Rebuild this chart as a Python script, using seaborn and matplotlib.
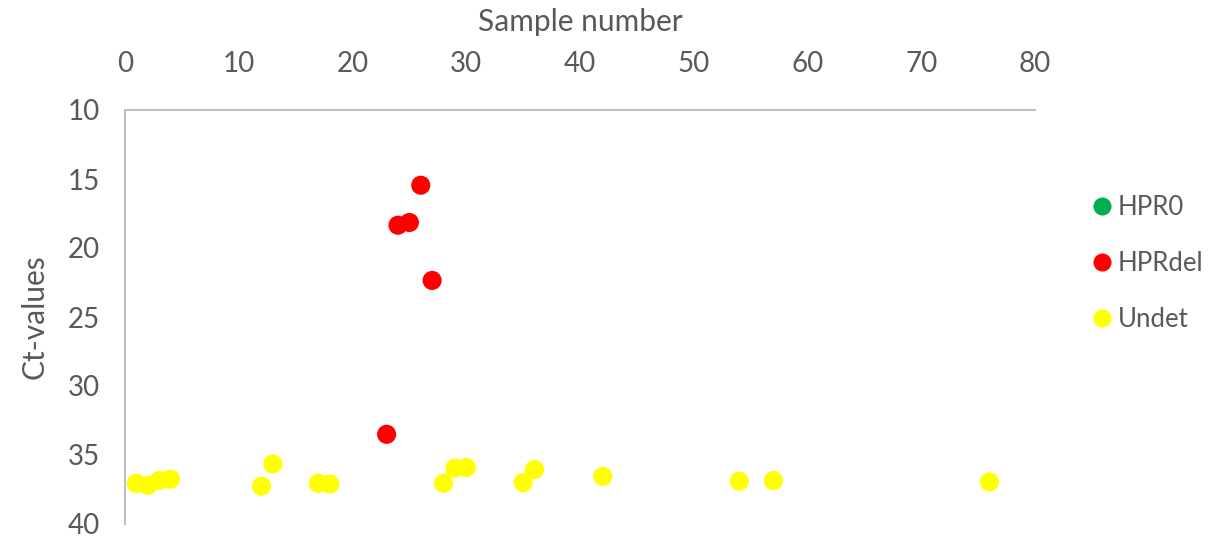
import matplotlib
matplotlib.use("Agg")
import matplotlib.pyplot as plt
from matplotlib.lines import Line2D
import pandas as pd
import seaborn as sns

# values
hprdel_x = [23, 24, 25, 26, 27]
hprdel_y = [33.5, 18.35, 18.15, 15.45, 22.35]

undet_x = [1, 2, 3, 4, 12, 13, 17, 18, 28, 29, 30, 35, 36, 42, 54, 57, 76]
undet_y = [37.05, 37.2, 36.85, 36.75, 37.25, 35.65, 37.05, 37.1, 37.05,
           35.95, 35.9, 37.0, 36.05, 36.55, 36.9, 36.85, 36.95]

groups = ["HPR0", "HPRdel", "Undet"]
colors = {"HPR0": "#00B050", "HPRdel": "#FF0000", "Undet": "#FFFF00"}

df = pd.concat([
    pd.DataFrame({"sample": hprdel_x, "ct": hprdel_y, "group": "HPRdel"}),
    pd.DataFrame({"sample": undet_x, "ct": undet_y, "group": "Undet"}),
], ignore_index=True)

sns.set_style("white")
plt.rcParams["font.family"] = ["Lato", "DejaVu Sans"]

fig = plt.figure(figsize=(12.24, 5.38), dpi=100)
ax = fig.add_axes([125 / 1224, 14 / 538, 910 / 1224, 414 / 538])

sns.scatterplot(
    data=df,
    x="sample",
    y="ct",
    hue="group",
    hue_order=groups,
    palette=colors,
    s=190,
    linewidth=0,
    legend=False,
    ax=ax,
)

ax.set_xlim(0, 80)
ax.set_ylim(40, 10)
ax.set_xticks(range(0, 81, 10))
ax.set_yticks(range(10, 41, 5))
ax.xaxis.tick_top()
ax.xaxis.set_label_position("top")
ax.tick_params(length=0, labelsize=20, colors="#595959")
ax.tick_params(axis="x", pad=24)
ax.tick_params(axis="y", pad=18)

for side in ["right", "bottom"]:
    ax.spines[side].set_visible(False)
for side in ["top", "left"]:
    ax.spines[side].set_color("#bfbfbf")
    ax.spines[side].set_linewidth(1.5)

ax.set_xlabel("Sample number", fontsize=21.5, color="#595959", labelpad=14)
ax.set_ylabel("Ct-values", fontsize=21.5, color="#595959", labelpad=14)

handles = [
    Line2D([], [], marker="o", linestyle="", markersize=13,
           markerfacecolor=colors[g], markeredgewidth=0, label=g)
    for g in groups
]
leg = ax.legend(
    handles=handles,
    loc="center left",
    bbox_to_anchor=(1.04, 0.63),
    frameon=False,
    fontsize=18.5,
    handlelength=0.6,
    handletextpad=0.3,
    labelspacing=1.2,
)
for t in leg.get_texts():
    t.set_color("#595959")

fig.savefig("out.png", dpi=100)
